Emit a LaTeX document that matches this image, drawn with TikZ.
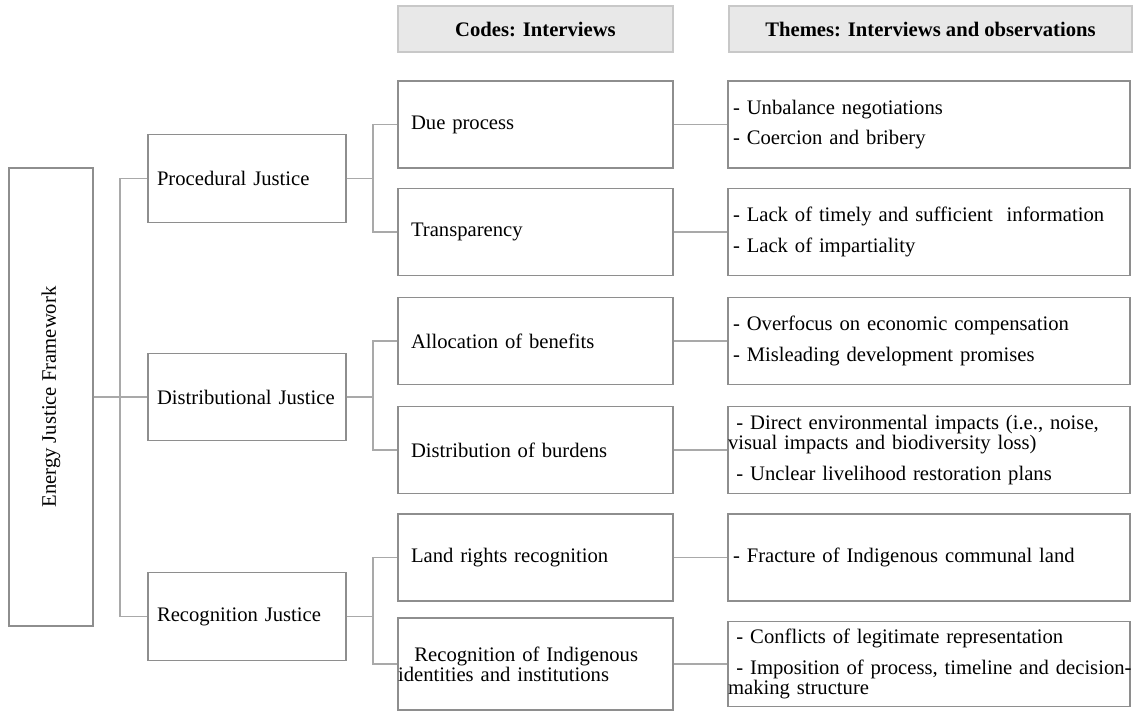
\documentclass[tikz,border=0pt]{standalone}
\usepackage{fontspec}
\setmainfont{Liberation Serif}
\usepackage{tikz}
\definecolor{boxline}{HTML}{8E8E8E}
\definecolor{linkline}{HTML}{A9A9A9}
\definecolor{headfill}{HTML}{E8E8E8}
\definecolor{headline}{HTML}{C8C8C8}
\tikzset{
  box/.style={draw=boxline, line width=0.8pt, align=left, inner ysep=0pt, font=\fontsize{11.75}{11.4}\selectfont},
  rootbox/.style={box, align=center, minimum width=1.68cm, minimum height=9.16cm},
  pillar/.style={box, inner xsep=0.18cm, text width=3.6cm, minimum height=1.75cm},
  code/.style={box, inner xsep=0.26cm, text width=4.98cm, minimum height=1.74cm},
  theme/.style={box, inner xsep=0.1cm, text width=7.84cm, minimum height=1.74cm},
  head/.style={draw=headline, fill=headfill, line width=0.8pt, minimum height=0.92cm, font=\fontsize{11.75}{11.4}\selectfont\bfseries},
  link/.style={draw=linkline, line width=1.1pt},
}

\begin{document}
\begin{tikzpicture}[x=0.02cm, y=-0.02cm]
\useasboundingbox (0,0) rectangle (1136,713);
% column heads
\node[head, minimum width=5.5cm] (hcodes) at (535.5,29) {Codes: Interviews};
\node[head, minimum width=8.06cm] (hthemes) at (930.5,29) {Themes: Interviews and observations};
% framework and pillars
\node[rootbox] (frame) at (51,397) {\rotatebox{90}{Energy Justice Framework}};
\node[pillar] (proc) at (247,178.5) {Procedural Justice};
\node[pillar] (distr) at (247,397) {\mbox{Distributional Justice}};
\node[pillar] (recog) at (247,616.5) {Recognition Justice};
% codes
\node[code] (due) at (535.5,124.5) {Due process};
\node[code] (transp) at (535.5,232) {Transparency};
\node[code] (alloc) at (535.5,341) {Allocation of benefits};
\node[code] (burden) at (535.5,450) {Distribution of burdens};
\node[code] (land) at (535.5,557.5) {Land rights recognition};
\node[code, minimum height=1.84cm] (ident) at (535.5,664) {\,Recognition of Indigenous\\\hspace*{-0.26cm}identities and institutions};
% themes
\node[theme] (negot) at (929,124.5) {- Unbalance negotiations\\[6pt]- Coercion and bribery};
\node[theme] (info) at (929,232) {- Lack of timely and sufficient~ information\\[6pt]- Lack of impartiality};
\node[theme] (compens) at (929,341) {- Overfocus on economic compensation\\[6pt]- Misleading development promises};
\node[theme] (impacts) at (929,450) {\,- Direct environmental impacts (i.e., noise,\\\hspace*{-0.1cm}visual impacts and biodiversity loss)\\[6pt]\,- Unclear livelihood restoration plans};
\node[theme] (fracture) at (929,557.5) {- Fracture of Indigenous communal land};
\node[theme, minimum height=1.7cm] (legit) at (929,664) {\,- Conflicts of legitimate representation\\[6pt]\,\mbox{- Imposition of process, timeline and decision-}\\\hspace*{-0.1cm}making structure};
% framework to pillars
\draw[link] (frame.east) -- ++(26,0) |- (proc.west);
\draw[link] (frame.east) -- (distr.west);
\draw[link] (frame.east) -- ++(26,0) |- (recog.west);
% pillars to codes
\draw[link] (proc.east) -- ++(26,0) |- (due.west);
\draw[link] (proc.east) -- ++(26,0) |- (transp.west);
\draw[link] (distr.east) -- ++(26,0) |- (alloc.west);
\draw[link] (distr.east) -- ++(26,0) |- (burden.west);
\draw[link] (recog.east) -- ++(26,0) |- (land.west);
\draw[link] (recog.east) -- ++(26,0) |- (ident.west);
% codes to themes
\draw[link] (due.east) -- (negot.west);
\draw[link] (transp.east) -- (info.west);
\draw[link] (alloc.east) -- (compens.west);
\draw[link] (burden.east) -- (impacts.west);
\draw[link] (land.east) -- (fracture.west);
\draw[link] (ident.east) -- (legit.west);
\end{tikzpicture}
\end{document}
